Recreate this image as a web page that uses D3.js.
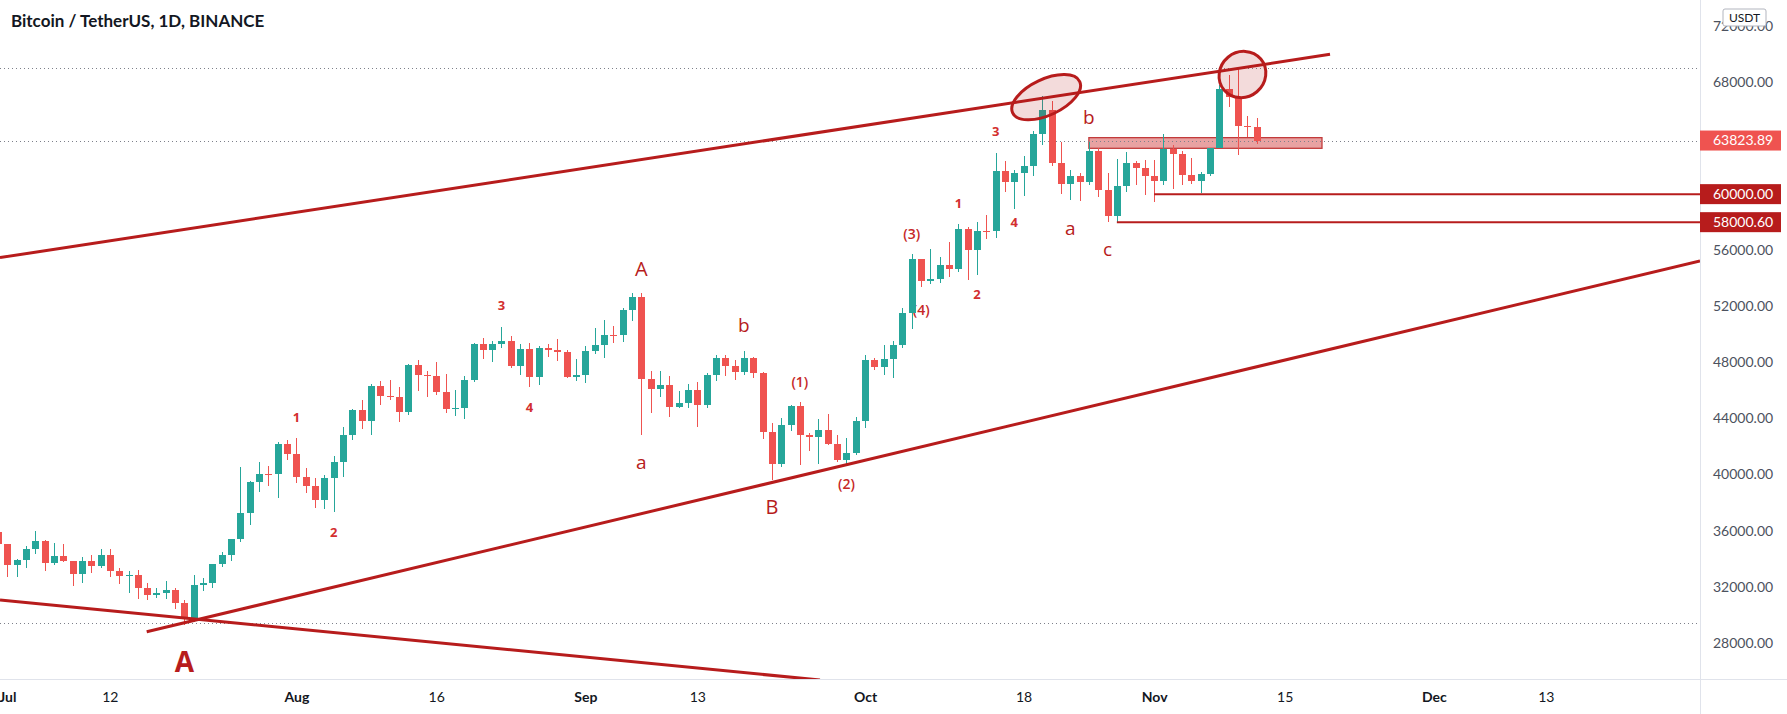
<!DOCTYPE html>
<html>
<head>
<meta charset="utf-8">
<script src="https://cdn.jsdelivr.net/npm/d3@7"></script>
<style>
  html, body { margin: 0; padding: 0; background: #ffffff; }
  svg { display: block; }
</style>
</head>
<body>
<svg id="chart" width="1787" height="714"></svg>
<script>
// ---------------- DATA ----------------
const title = "Bitcoin / TetherUS, 1D, BINANCE";
const firstDay = "2021-06-30";
const lastDay = "2021-11-12";

const open = [35908,
  35040,33572,33897,34668,35288,33690,34220,33863,32875,33815,33502,34259,33086,32729,32820,31874,31384,31521,31778,30839,29790,32144,32287,33635,34261,35381,37237,39457,40019,40016,42206,
  41461,39850,39146,38207,39723,40862,42837,44614,43822,46286,45593,45562,44429,47834,47113,47015,45903,44696,44715,46760,49339,48905,49321,49546,47706,48960,46942,49058,48897,48767,46970,
  47100,48811,49247,49942,49920,51754,52634,46811,46091,46391,44843,45133,46057,44963,47093,48307,47765,47300,48314,47261,43016,40734,43544,44866,42810,42670,43160,42147,41026,41524,
  43790,48165,47657,48233,49244,51493,55339,53798,53956,54963,54690,57485,56006,57370,57347,61672,60875,61528,62005,64280,66002,62193,60688,61286,60852,63079,60328,58413,60575,62253,61859,
  61300,60911,63220,62896,61396,60940,61470,63273,67525,66947,64883,64774];
const high = [36100,
  35057,33939,34909,35967,35293,35118,35059,33863,34100,34262,34666,34678,33340,33114,33185,32249,31935,32435,31899,31063,32858,32591,33650,34500,35398,40550,39542,40900,40640,42316,42448,
  42599,40459,39780,39969,41350,43392,44700,45310,46456,46700,46743,46218,47886,48144,47373,48053,47160,46000,47033,49382,49757,49500,50500,49875,49277,49367,49185,49309,49666,48907,48246,
  49156,50450,51000,50558,51900,52920,52920,47381,47400,47040,45987,46460,46600,47250,48500,48500,48190,48843,48373,47341,43639,44000,44978,45200,42966,43950,44350,42787,42590,44132,
  48495,48336,49228,49536,51886,55750,55380,56100,55489,56561,57839,57680,58000,58532,62933,62350,61718,62695,64487,67000,66639,63732,61747,61500,63710,63293,61496,62499,62980,62359,62405,
  62437,64270,63500,63086,62595,61560,63286,67789,68524,69000,65600,65450];
const low = [34017,
  32711,32699,33323,34357,33125,33532,33777,32077,32261,33004,33306,32658,32202,31550,31133,31020,31178,31108,30408,29278,29482,31708,31925,33401,33852,35205,36383,38772,39200,38313,41000,
  39422,38690,37642,37508,37332,39853,42447,43261,42848,44957,45341,43770,44218,45971,45524,45660,44376,44203,43955,46622,48274,48010,49030,47600,47122,46250,46361,48370,48105,46861,46700,
  46513,48584,48316,49400,49450,50969,42843,44412,45513,44132,44722,44742,43370,44750,46696,47036,46750,47087,46876,42500,39600,40565,43069,40675,41646,40750,42098,40888,40753,41410,
  43283,47430,47120,46891,49000,50382,53357,53617,53661,54080,54415,53879,54253,56818,56850,60151,58963,59844,61322,63481,62000,60000,59562,59510,60650,59817,58000,58000.6,60174,60673,59945,
  59405,60624,60382,60677,60721,60050,61322,63273,66222,62822,64100,63600];
const close = [35040,
  33572,33897,34668,35287,33690,34220,33863,32875,33815,33502,34258,33086,32729,32820,31880,31383,31521,31778,30839,29790,32144,32287,33634,34258,35381,37237,39457,40019,40016,42206,41461,
  39845,39147,38207,39723,40862,42836,44614,43822,46286,45593,45562,44429,47834,47113,47015,45903,44696,44715,46760,49339,48905,49321,49546,47706,48960,46942,49058,48897,48767,46970,47100,
  48811,49247,49942,49920,51754,52634,46811,46091,46391,44843,45133,46057,44963,47093,48307,47765,47300,48314,47261,43016,40734,43544,44866,42811,42670,43160,42147,41026,41524,43790,
  48165,47657,48233,49245,51493,55339,53797,53964,54963,54691,57484,56006,57367,57347,61672,60876,61528,62010,64280,66001,62193,60688,61286,60852,63078,60329,58413,60575,62253,61859,61300,
  60911,63219,62896,61395,60937,61470,63273,67525,66947,64882,64774,63823.89];

const yTickValues = [28000,32000,36000,40000,44000,48000,52000,56000,60000,64000,68000,72000];
const xTickDates = ["2021-07-01","2021-07-12","2021-08-01","2021-08-16","2021-09-01","2021-09-13","2021-10-01","2021-10-18","2021-11-01","2021-11-15","2021-12-01","2021-12-13"];
const xTickLabels = ["Jul","12","Aug","16","Sep","13","Oct","18","Nov","15","Dec","13"];
const xTickIsMonth = [true,false,true,false,true,false,true,false,true,false,true,false];

const currency = "USDT";
const lastPrice = 63823.89;
const dottedLevels = [69000, 63823.89, 29400];
const markedLevels = [60000, 58000.60];
const markedLevelStarts = ["2021-11-01", "2021-10-28"];

// trend lines: pairs of [date, price] anchors
const channelUpper = [["2021-06-30T05:13Z", 55472], ["2021-11-19T20:40Z", 69976]];
const channelLower = [["2021-07-15T22:48Z", 28783], ["2021-12-29T13:00Z", 55230]];
const fallingLine  = [["2021-06-30T05:13Z", 31045], ["2021-09-26T03:50Z", 25337]];

const zoneDates = ["2021-10-25", "2021-11-19"];
const zonePrices = [63270, 64030];

const ellipseCenters = [["2021-10-20T10:05Z", 66916], ["2021-11-10T11:17Z", 68535]];

// wave labels: [text, date, price]
const waveMajor = [["A","2021-07-20",26700],["A","2021-09-07",54660],["B","2021-09-21",37750]];
const waveMinor = [["a","2021-09-07",40910],["b","2021-09-18",50660],["a","2021-10-23",57600],["b","2021-10-25",65480],["c","2021-10-27",56060]];
const waveDigits = [["1","2021-08-01",44120],["2","2021-08-05",35920],["3","2021-08-23",52090],["4","2021-08-26",44840],
                    ["1","2021-10-11",59350],["2","2021-10-13",52880],["3","2021-10-15",64500],["4","2021-10-17",58030]];
const waveParen = [["(1)","2021-09-24",46620],["(2)","2021-09-29",39370],["(3)","2021-10-06",57210],["(4)","2021-10-07T00:30Z",51780]];

// ---------------- DRAW ----------------
const W = 1787, H = 714;
const plotR = 1700, plotB = 679;
const UP = "#26a69a", DOWN = "#ef5350", MARK = "#b71c1c";
const FONT = "Lato, 'Open Sans', sans-serif";

const parse = s => new Date(s.length === 10 ? s + "T00:00:00Z" : s);
const dates = d3.utcDay.range(parse(firstDay), d3.utcDay.offset(parse(lastDay), 1));

const x = d3.scaleUtc()
  .domain([parse("2021-07-01"), parse("2021-12-30")])
  .range([7.3, 7.3 + 182 * 9.324]);
const y = d3.scaleLinear().domain([28000, 68000]).range([642.7, 82]);

const svg = d3.select("#chart");
svg.append("rect").attr("width", W).attr("height", H).attr("fill", "#fff");

svg.append("defs").append("clipPath").attr("id", "plotclip")
  .append("rect").attr("x", 0).attr("y", 0).attr("width", plotR).attr("height", plotB);

const plot = svg.append("g").attr("clip-path", "url(#plotclip)");

// zone rectangle
plot.append("rect")
  .attr("x", x(parse(zoneDates[0])))
  .attr("width", x(parse(zoneDates[1])) - x(parse(zoneDates[0])))
  .attr("y", y(zonePrices[1]))
  .attr("height", y(zonePrices[0]) - y(zonePrices[1]))
  .attr("fill", "#e8a2a2")
  .attr("stroke", "#c23b3b").attr("stroke-width", 1.3);

// dotted levels
plot.selectAll("line.dot").data(dottedLevels).join("line")
  .attr("x1", 0).attr("x2", plotR)
  .attr("y1", d => Math.round(y(d)) + 0.5).attr("y2", d => Math.round(y(d)) + 0.5)
  .attr("stroke", "#7d808a").attr("stroke-width", 1).attr("stroke-dasharray", "1,3");

// wave labels (behind candles)
const lbl = plot.append("g").attr("font-family", "'Open Sans', sans-serif").attr("text-anchor", "middle").attr("dominant-baseline", "central");
lbl.selectAll("text.maj").data(waveMajor).join("text")
  .attr("x", d => x(parse(d[1]))).attr("y", d => y(d[2]))
  .attr("font-size", (d, i) => i === 0 ? 28 : 20)
  .attr("font-weight", (d, i) => i === 0 ? 700 : 400)
  .attr("fill", MARK).text(d => d[0]);
lbl.selectAll("text.min").data(waveMinor).join("text")
  .attr("x", d => x(parse(d[1]))).attr("y", d => y(d[2]))
  .attr("font-size", 19).attr("fill", MARK).text(d => d[0]);
lbl.selectAll("text.dig").data(waveDigits).join("text")
  .attr("x", d => x(parse(d[1]))).attr("y", d => y(d[2]))
  .attr("font-size", 13).attr("font-weight", 700).attr("fill", "#d32f2f").text(d => d[0]);
lbl.selectAll("text.par").data(waveParen).join("text")
  .attr("x", d => x(parse(d[1]))).attr("y", d => y(d[2]))
  .attr("font-size", 14).attr("font-weight", 600).attr("fill", "#c62828").text(d => d[0]);

// candles
const candles = dates.map((d, i) => ({ d, o: open[i], h: high[i], l: low[i], c: close[i] }));
const cg = plot.append("g").attr("shape-rendering", "crispEdges");
cg.selectAll("line.wick").data(candles).join("line")
  .attr("x1", d => Math.round(x(d.d)) + 0.5).attr("x2", d => Math.round(x(d.d)) + 0.5)
  .attr("y1", d => y(d.h)).attr("y2", d => y(d.l))
  .attr("stroke", d => d.c >= d.o ? UP : DOWN).attr("stroke-width", 1);
cg.selectAll("rect.body").data(candles).join("rect")
  .attr("x", d => Math.round(x(d.d)) - 3)
  .attr("width", 7)
  .attr("y", d => y(Math.max(d.o, d.c)))
  .attr("height", d => Math.max(1, y(Math.min(d.o, d.c)) - y(Math.max(d.o, d.c))))
  .attr("fill", d => d.c >= d.o ? UP : DOWN);

// marked horizontal levels
plot.selectAll("line.lvl").data(markedLevels).join("line")
  .attr("x1", (d, i) => x(parse(markedLevelStarts[i]))).attr("x2", plotR)
  .attr("y1", d => y(d)).attr("y2", d => y(d))
  .attr("stroke", MARK).attr("stroke-width", 2);

// trend lines
const lineGen = d3.line().x(p => x(parse(p[0]))).y(p => y(p[1]));
plot.selectAll("path.trend").data([channelUpper, channelLower, fallingLine]).join("path")
  .attr("d", lineGen).attr("fill", "none").attr("stroke", MARK).attr("stroke-width", 3);

// ellipses
const ellStyle = [[37, 18, -25], [24, 22.5, -40]];
plot.selectAll("ellipse").data(ellipseCenters).join("ellipse")
  .attr("cx", d => x(parse(d[0]))).attr("cy", d => y(d[1]))
  .attr("rx", (d, i) => ellStyle[i][0]).attr("ry", (d, i) => ellStyle[i][1])
  .attr("transform", (d, i) => `rotate(${ellStyle[i][2]} ${x(parse(d[0]))} ${y(d[1])})`)
  .attr("fill", "rgba(183,28,28,0.16)").attr("stroke", MARK).attr("stroke-width", 3);

// frame lines
svg.append("line").attr("x1", plotR + 0.5).attr("x2", plotR + 0.5).attr("y1", 0).attr("y2", H)
  .attr("stroke", "#e0e3eb").attr("stroke-width", 1);
svg.append("line").attr("x1", 0).attr("x2", W).attr("y1", plotB + 0.5).attr("y2", plotB + 0.5)
  .attr("stroke", "#e0e3eb").attr("stroke-width", 1);

// y axis
const yAxis = svg.append("g").attr("transform", `translate(${plotR},0)`)
  .call(d3.axisRight(y).tickValues(yTickValues).tickFormat(d3.format(".2f")).tickSize(0).tickPadding(13));
yAxis.select(".domain").remove();
yAxis.selectAll("text").attr("font-family", FONT).attr("font-size", 14).attr("fill", "#4c525e");

// x axis
const xAxis = svg.append("g").attr("transform", `translate(0,${plotB})`)
  .call(d3.axisBottom(x).tickValues(xTickDates.map(parse)).tickFormat((d, i) => xTickLabels[i]).tickSize(0).tickPadding(13));
xAxis.select(".domain").remove();
xAxis.selectAll("text").attr("font-family", FONT).attr("font-size", 14).attr("fill", "#131722")
  .attr("font-weight", (d, i) => xTickIsMonth[i] ? 700 : 400);

// price labels on axis
const tagData = [[lastPrice, DOWN]].concat(markedLevels.map(v => [v, MARK]));
const tags = svg.append("g").selectAll("g").data(tagData).join("g")
  .attr("transform", d => `translate(${plotR},${y(d[0])})`);
tags.append("rect").attr("x", 0).attr("y", -10).attr("width", 81).attr("height", 20).attr("fill", d => d[1]);
tags.append("text").attr("x", 13).attr("y", 0).attr("dy", "0.35em")
  .attr("font-family", FONT).attr("font-size", 14).attr("fill", "#fff")
  .text(d => d3.format(".2f")(d[0]));

// currency box (sits over the top tick label, as in the reference)
const cb = svg.append("g").attr("transform", "translate(1723,9)");
cb.append("rect").attr("width", 43).attr("height", 17).attr("rx", 2)
  .attr("fill", "#fff").attr("stroke", "#b2b5be").attr("stroke-width", 1);
cb.append("text").attr("x", 21.5).attr("y", 8.5).attr("dy", "0.35em").attr("text-anchor", "middle")
  .attr("font-family", FONT).attr("font-size", 12).attr("fill", "#131722").text(currency);

// title
svg.append("text").attr("x", 11).attr("y", 26.5)
  .attr("font-family", FONT).attr("font-size", 17).attr("font-weight", 700).attr("fill", "#131722")
  .text(title);
</script>
</body>
</html>
